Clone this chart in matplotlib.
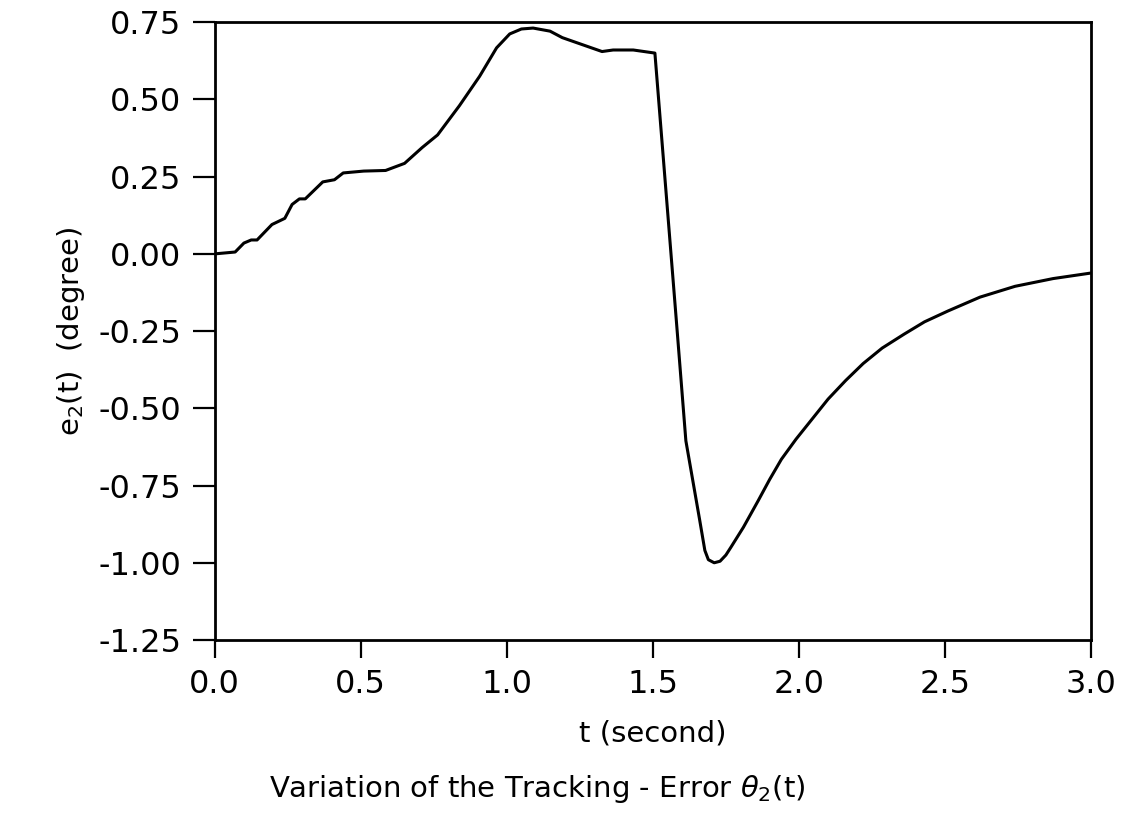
import numpy as np
import matplotlib
matplotlib.use("Agg")
import matplotlib.pyplot as plt

# values
t = [0.0, 0.07, 0.10, 0.125, 0.145, 0.196, 0.24, 0.265, 0.29, 0.31, 0.37,
     0.41, 0.44, 0.51, 0.585, 0.65, 0.71, 0.763, 0.838, 0.907, 0.965, 1.01,
     1.05, 1.09, 1.148, 1.19, 1.326, 1.364, 1.433, 1.507, 1.582, 1.613,
     1.66, 1.678, 1.69, 1.71, 1.73, 1.75, 1.767, 1.81, 1.86, 1.90, 1.94,
     1.99, 2.045, 2.10, 2.16, 2.22, 2.285, 2.36, 2.43, 2.51, 2.62, 2.74,
     2.87, 3.0]
e2 = [0.0, 0.006, 0.035, 0.045, 0.045, 0.095, 0.115, 0.16, 0.178, 0.178,
      0.233, 0.24, 0.262, 0.268, 0.27, 0.293, 0.344, 0.385, 0.48, 0.575,
      0.667, 0.712, 0.728, 0.731, 0.721, 0.70, 0.655, 0.66, 0.66, 0.65,
      -0.235, -0.605, -0.86, -0.96, -0.99, -1.0, -0.995, -0.975, -0.95,
      -0.885, -0.80, -0.73, -0.665, -0.60, -0.535, -0.47, -0.41, -0.355,
      -0.305, -0.26, -0.22, -0.185, -0.14, -0.105, -0.08, -0.062]

xticks = [0.0, 0.5, 1.0, 1.5, 2.0, 2.5, 3.0]
yticks = [0.75, 0.50, 0.25, 0.00, -0.25, -0.50, -0.75, -1.00, -1.25]

fig = plt.figure(figsize=(11.3, 8.22), dpi=100)
ax = fig.add_axes([0.19, 0.2214, 0.7755, 0.7516])

ax.plot(t, e2, color="black", linewidth=2.2)

ax.set_xlim(0, 3.0)
ax.set_ylim(-1.25, 0.75)
ax.set_xticks(xticks)
ax.set_xticklabels(["%.1f" % v for v in xticks])
ax.set_yticks(yticks)
ax.set_yticklabels(["%.2f" % v for v in yticks])

for s in ax.spines.values():
    s.set_linewidth(2)
ax.tick_params(axis="both", direction="out", width=1.6, labelsize=23)
ax.tick_params(axis="y", length=16, pad=8)
ax.tick_params(axis="x", length=13, pad=8)

ax.set_xlabel("t (second)", fontsize=21, labelpad=14)
ax.set_ylabel(r"e$_2$(t)  (degree)", fontsize=21, labelpad=8)

fig.text(0.475, 0.03, r"Variation of the Tracking - Error $\theta_2$(t)",
         fontsize=21, ha="center")

fig.savefig("out.png", dpi=100)
